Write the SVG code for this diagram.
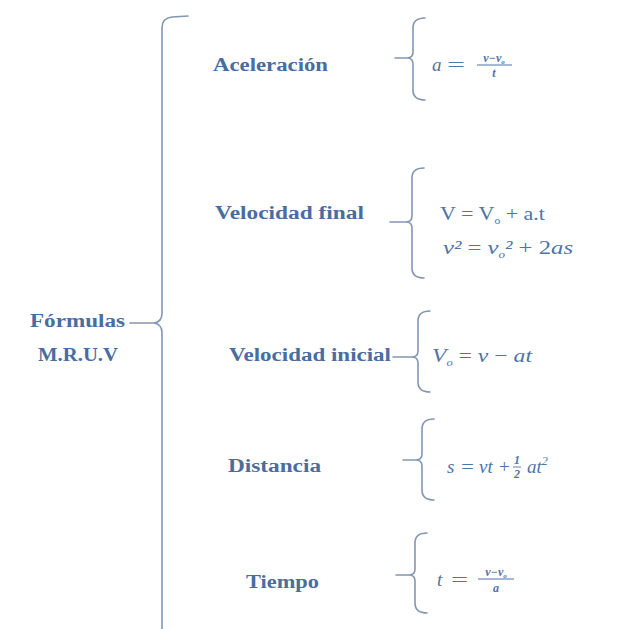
<svg xmlns="http://www.w3.org/2000/svg" width="643" height="629" viewBox="0 0 643 629">
<style>
.lbl{font-family:"Liberation Serif",serif;font-weight:bold;font-size:18px;fill:#4a6d9f}
.f{font-family:"Liberation Serif",serif;font-size:19px;fill:#4f74a8}
.fi{font-family:"Liberation Serif",serif;font-style:italic;font-size:19px;fill:#4f74a8}
.sm{font-family:"Liberation Serif",serif;font-style:italic;font-weight:bold;font-size:12px;fill:#4f74a8}
.br{fill:none;stroke:#8396b2;stroke-width:1.6;stroke-linecap:round}
</style>
<rect width="643" height="629" fill="#ffffff"/>
<g id="connectors">
<path class="br" d="M188,16 L172,17 Q162,18 162,28 L162,313 Q162,322 154,323 L130,323 M154,323 Q162,324 162,333 L162,629"/>
<path class="br" d="M425,18 Q413,18 413,28 L413,52 Q413,58 407,58 L395,58 M407,58 Q413,58 413,64 L413,90 Q413,100 425,100"/>
<path class="br" d="M424,168 Q412,168 412,178 L412,216 Q412,222 406,222 L390,222 M406,222 Q412,222 412,228 L412,268 Q412,278 424,278"/>
<path class="br" d="M430,311 Q418,311 418,321 L418,351 Q418,357 412,357 L393,357 M412,357 Q418,357 418,363 L418,382 Q418,392 430,392"/>
<path class="br" d="M434,419 Q422,419 422,429 L422,454 Q422,460 416,460 L403,460 M416,460 Q422,460 422,466 L422,490 Q422,500 434,500"/>
<path class="br" d="M427,533 Q415,533 415,543 L415,569 Q415,575 409,575 L396,575 M409,575 Q415,575 415,581 L415,603 Q415,613 427,613"/>
</g>
<g id="root">
<text class="lbl" x="30" y="327" textLength="95" lengthAdjust="spacingAndGlyphs">Fórmulas</text>
<text class="lbl" x="38" y="361" textLength="80" lengthAdjust="spacingAndGlyphs">M.R.U.V</text>
</g>
<g id="aceleracion">
<text class="lbl" x="213" y="71" textLength="115" lengthAdjust="spacingAndGlyphs">Aceleración</text>
<text class="fi" x="432" y="71">a</text>
<text class="f" x="447" y="71" textLength="18" lengthAdjust="spacingAndGlyphs">=</text>
<text class="sm" x="494" y="62" text-anchor="middle">v−v<tspan font-size="7" dy="2">o</tspan></text>
<line x1="477" y1="65" x2="512" y2="65" stroke="#4f74a8" stroke-width="1.2"/>
<text class="sm" x="494" y="77" text-anchor="middle">t</text>
</g>
<g id="velocidad-final">
<text class="lbl" x="215" y="219" textLength="149" lengthAdjust="spacingAndGlyphs">Velocidad final</text>
<text class="f" x="440" y="220" textLength="105" lengthAdjust="spacingAndGlyphs">V = V<tspan font-size="10" dy="4">o</tspan><tspan dy="-4"> + a.t</tspan></text>
<text class="fi" x="443" y="254" textLength="130" lengthAdjust="spacingAndGlyphs">v²<tspan font-style="normal"> = </tspan>v<tspan font-size="10" dy="4">o</tspan><tspan dy="-4">² </tspan><tspan font-style="normal">+ 2</tspan>as</text>
</g>
<g id="velocidad-inicial">
<text class="lbl" x="229" y="361" textLength="162" lengthAdjust="spacingAndGlyphs">Velocidad inicial</text>
<text class="fi" x="432" y="362" textLength="100" lengthAdjust="spacingAndGlyphs">V<tspan font-size="10" dy="4">o</tspan><tspan dy="-4" font-style="normal"> = </tspan>v<tspan font-style="normal"> − </tspan>at</text>
</g>
<g id="distancia">
<text class="lbl" x="228" y="472" textLength="93" lengthAdjust="spacingAndGlyphs">Distancia</text>
<text class="fi" x="447" y="473">s</text>
<text class="f" x="461" y="473" textLength="13" lengthAdjust="spacingAndGlyphs">=</text>
<text class="fi" x="479" y="473">vt</text>
<text class="f" x="499" y="473">+</text>
<text class="sm" x="517" y="464" text-anchor="middle" font-style="normal">1</text>
<line x1="513" y1="467" x2="521" y2="467" stroke="#4f74a8" stroke-width="0.9"/>
<text class="sm" x="517" y="478" text-anchor="middle" font-style="normal">2</text>
<text class="fi" x="527" y="473">at<tspan font-size="12" dy="-8">2</tspan></text>
</g>
<g id="tiempo">
<text class="lbl" x="246" y="588" textLength="73" lengthAdjust="spacingAndGlyphs">Tiempo</text>
<text class="fi" x="437" y="586">t</text>
<text class="f" x="451" y="586" textLength="17" lengthAdjust="spacingAndGlyphs">=</text>
<text class="sm" x="496" y="576" text-anchor="middle">v−v<tspan font-size="7" dy="2">o</tspan></text>
<line x1="478" y1="579" x2="514" y2="579" stroke="#4f74a8" stroke-width="1.2"/>
<text class="sm" x="496" y="592" text-anchor="middle">a</text>
</g>
</svg>
